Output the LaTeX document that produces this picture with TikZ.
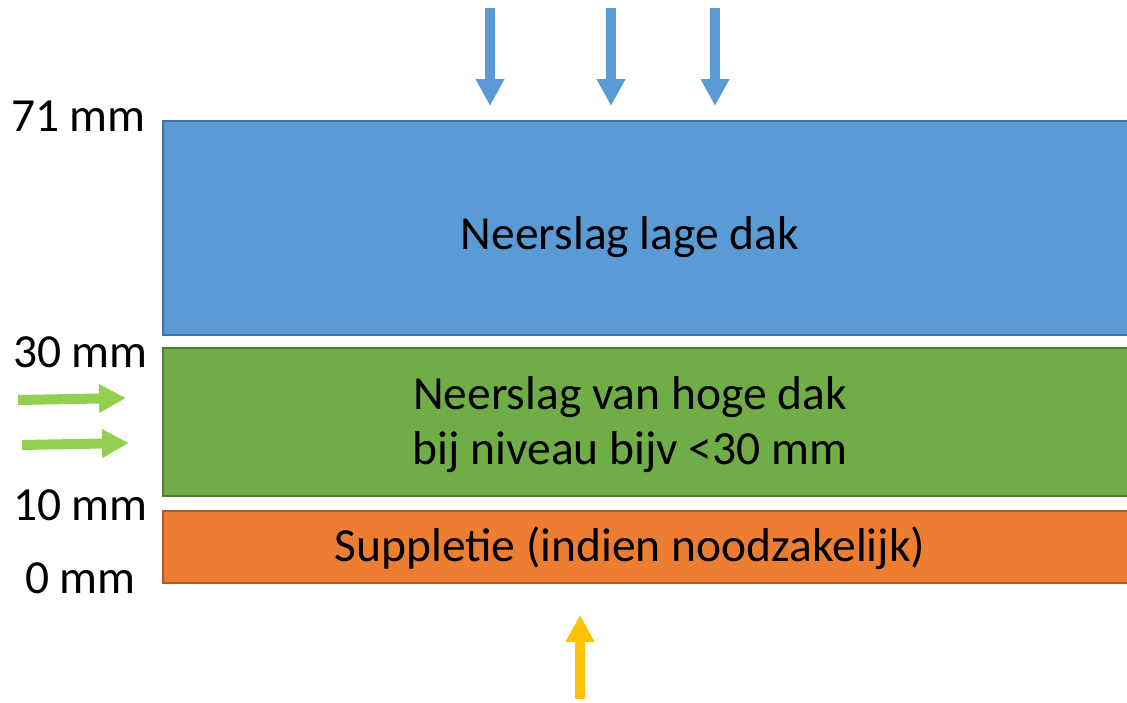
\documentclass[tikz,border=0pt]{standalone}
\usepackage{fontspec}
\setmainfont{Carlito}
\usetikzlibrary{arrows.meta}
\definecolor{cblue}{HTML}{5B9BD5}
\definecolor{cblueb}{HTML}{41719C}
\definecolor{cgreen}{HTML}{70AD47}
\definecolor{cgreenb}{HTML}{507E32}
\definecolor{corange}{HTML}{ED7D31}
\definecolor{coranb}{HTML}{AE5A21}
\definecolor{cgarrow}{HTML}{92D050}
\definecolor{cyarrow}{HTML}{FFC000}
\tikzset{
  layer/.style={line width=2pt},
  lbl/.style={font=\fontsize{47.5}{57}\selectfont, inner sep=0pt},
  mm/.style={font=\fontsize{47.5}{57}\selectfont, inner sep=0pt, anchor=east},
  fatarrow/.style={line width=10pt, -{Triangle[width=27pt,length=27pt]}},
}
\begin{document}
\begin{tikzpicture}[x=1pt,y=-1pt]
\useasboundingbox (0,0) rectangle (1127,702);
\begin{scope}
\clip (0,0) rectangle (1127,702);
\draw[layer, fill=cblue, draw=cblueb] (163,121) rectangle (1140,335);
\draw[layer, fill=cgreen, draw=cgreenb] (163,348) rectangle (1140,496);
\draw[layer, fill=corange, draw=coranb] (163,511) rectangle (1140,583);
\end{scope}
\node[lbl] (t1) at (630,237) {Neerslag lage dak};
\node[lbl] (t2) at (630,397) {Neerslag van hoge dak};
\node[lbl] (t3) at (630,452) {bij niveau bijv <30 mm};
\node[lbl] (t4) at (630,548) {Suppletie (indien noodzakelijk)};
\node[mm] (m71) at (146,116) {71 mm};
\node[mm] (m30) at (148,352) {30 mm};
\node[mm] (m10) at (148,505) {10 mm};
\node[mm] (m0) at (136,578) {0 mm};
\coordinate (b1s) at (490,8);  \coordinate (b1e) at (490,106);
\coordinate (b2s) at (611,8);  \coordinate (b2e) at (611,106);
\coordinate (b3s) at (715,8);  \coordinate (b3e) at (715,106);
\draw[fatarrow, cblue] (b1s) -- (b1e);
\draw[fatarrow, cblue] (b2s) -- (b2e);
\draw[fatarrow, cblue] (b3s) -- (b3e);
\coordinate (g1s) at (18,400); \coordinate (g1e) at (126,398);
\coordinate (g2s) at (22,445); \coordinate (g2e) at (129,443);
\draw[fatarrow, cgarrow] (g1s) -- (g1e);
\draw[fatarrow, cgarrow] (g2s) -- (g2e);
\coordinate (ys) at (580,699); \coordinate (ye) at (580,615);
\draw[fatarrow, cyarrow] (ys) -- (ye);
\end{tikzpicture}
\end{document}
